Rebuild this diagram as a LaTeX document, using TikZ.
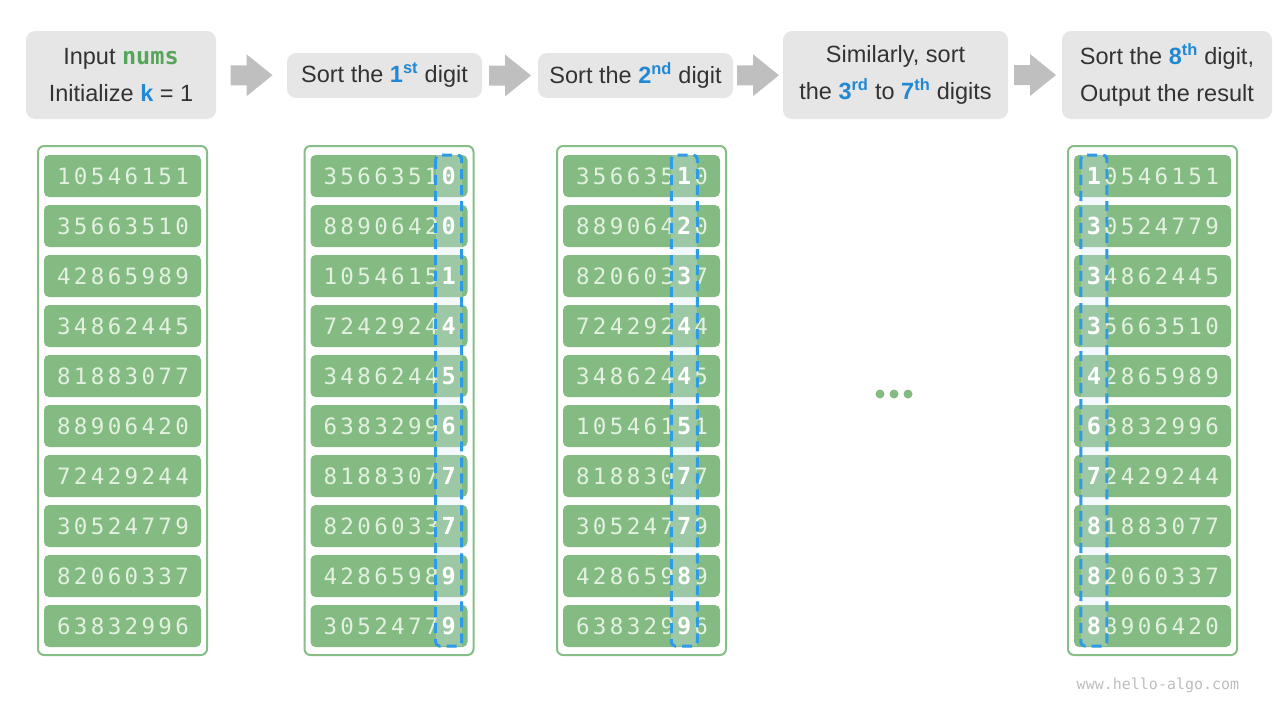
\documentclass[tikz,border=0pt]{standalone}
\usepackage{fontspec}
\setmainfont{Liberation Sans}
\setmonofont{DejaVu Sans Mono}
\usepackage{xstring}
\usetikzlibrary{positioning,calc}
\definecolor{boxgray}{HTML}{E6E6E6}
\definecolor{textdark}{HTML}{333333}
\definecolor{keyblue}{HTML}{2188D4}
\definecolor{numgreen}{HTML}{55A55A}
\definecolor{bargreen}{HTML}{83BB83}
\definecolor{framegreen}{HTML}{86BE86}
\definecolor{digitlight}{HTML}{E4F1E1}
\definecolor{dashblue}{HTML}{2E9BE6}
\definecolor{hlblue}{HTML}{D6E8F8}
\definecolor{arrowgray}{HTML}{BFBFBF}
\definecolor{markgray}{HTML}{BDBDBD}
\newcommand{\digord}[2]{\textcolor{keyblue}{\bfseries #1\textsuperscript{#2}}}

\begin{document}
\begin{tikzpicture}[x=1pt,y=-1pt,
    stepbox/.style={fill=boxgray,rounded corners=9,text=textdark,align=center,
      inner sep=0,font=\fontsize{23.5}{37}\selectfont},
    numframe/.style={draw=framegreen,line width=2,fill=white,rounded corners=6,
      minimum width=169,minimum height=509,inner sep=0},
    numbar/.style={fill=bargreen,rounded corners=5,minimum width=157,
      minimum height=42,inner sep=0},
    digit/.style={text=digitlight,inner sep=0,font=\ttfamily\fontsize{22.5}{22.5}\selectfont},
    hidigit/.style={text=white,inner sep=0,font=\ttfamily\bfseries\fontsize{23.5}{23.5}\selectfont}]
  \useasboundingbox (0,0) rectangle (1280,720);

  % steps along the top
  \node[stepbox,minimum width=190,minimum height=88] (s1) at (121,75)
    {Input \textcolor{numgreen}{\ttfamily\bfseries nums}\\Initialize \textcolor{keyblue}{\bfseries k} = 1};
  \node[stepbox,minimum width=195,minimum height=45] (s2) at (384.5,75.5)
    {Sort the \digord{1}{st} digit};
  \node[stepbox,minimum width=195,minimum height=45] (s3) at (635.5,75.5)
    {Sort the \digord{2}{nd} digit};
  \node[stepbox,minimum width=225,minimum height=88] (s4) at (895.5,75)
    {Similarly, sort\\the \digord{3}{rd} to \digord{7}{th} digits};
  \node[stepbox,minimum width=210,minimum height=88] (s5) at (1167,75)
    {Sort the \digord{8}{th} digit,\\Output the result};

  \foreach \a/\b in {s1/s2,s2/s3,s3/s4,s4/s5} {
    \path ($(\a.east)!0.5!(\b.west)$) coordinate (m-\a);
    \fill[arrowgray,shift={(m-\a)}]
      (-21,-10) -- (-5,-10) -- (-5,-21) -- (21,0) -- (-5,21) -- (-5,10) -- (-21,10) -- cycle;
  }

  % the four lists; \hi is the digit that was just sorted on
  \foreach \nm/\cx/\hi/\nums in {
      c1/122.5/0/{10546151,35663510,42865989,34862445,81883077,88906420,72429244,30524779,82060337,63832996},
      c2/389/8/{35663510,88906420,10546151,72429244,34862445,63832996,81883077,82060337,42865989,30524779},
      c3/641.5/7/{35663510,88906420,82060337,72429244,34862445,10546151,81883077,30524779,42865989,63832996},
      c4/1152.5/1/{10546151,30524779,34862445,35663510,42865989,63832996,72429244,81883077,82060337,88906420}} {
    \node[numframe] (\nm) at (\cx,400.5) {};
    \foreach \n [count=\r] in \nums
      \node[numbar] (\nm-\r) at (\cx,{176+50*(\r-1)}) {};
    \ifnum\hi>0
      \fill[hlblue,opacity=0.3] ({\cx+0.5+(\hi-4.5)*16.9-13},155) rectangle ({\cx+0.5+(\hi-4.5)*16.9+13},646);
    \fi
    \foreach \n [count=\r] in \nums {
      \foreach \i in {1,...,8} {
        \StrChar{\n}{\i}[\dg]
        \ifnum\i=\hi
          \node[hidigit] (\nm-\r-\i) at ({\cx+0.5+(\i-4.5)*16.9},{176+50*(\r-1)}) {\dg};
        \else
          \node[digit] (\nm-\r-\i) at ({\cx+0.5+(\i-4.5)*16.9},{176+50*(\r-1)}) {\dg};
        \fi
      }
    }
    \ifnum\hi>0
      \draw[dashblue,line width=3,dash pattern=on 10 off 6,rounded corners=4]
        ({\cx+0.5+(\hi-4.5)*16.9-13},155) rectangle ({\cx+0.5+(\hi-4.5)*16.9+13},646);
    \fi
  }

  \foreach \x in {880,894,908}
    \fill[bargreen] (\x,394) circle (4.5);

  \node[text=markgray,font=\ttfamily\fontsize{15}{15}\selectfont] (mark) at (1158,685) {www.hello-algo.com};
\end{tikzpicture}
\end{document}
